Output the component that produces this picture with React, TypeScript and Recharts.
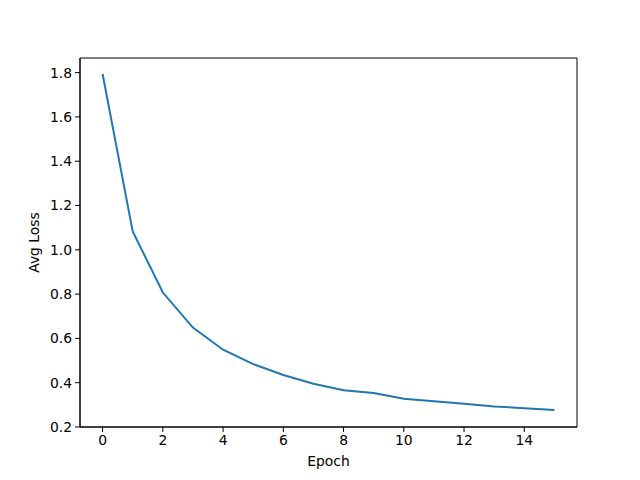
import React from "react";
import { LineChart, Line, XAxis, YAxis, ReferenceArea } from "recharts";

const epochs = [0, 1, 2, 3, 4, 5, 6, 7, 8, 9, 10, 11, 12, 13, 14, 15];
const avgLoss = [
  1.794, 1.083, 0.807, 0.649, 0.549, 0.484, 0.435, 0.395, 0.366, 0.353, 0.328, 0.316, 0.305, 0.293,
  0.285, 0.277,
];
const xTicks = [0, 2, 4, 6, 8, 10, 12, 14];
const yTicks = [0.2, 0.4, 0.6, 0.8, 1.0, 1.2, 1.4, 1.6, 1.8];
const X_DOMAIN: [number, number] = [-0.75, 15.75];
const Y_DOMAIN: [number, number] = [0.2, 1.866];

const data = epochs.map((e, i) => ({ epoch: e, loss: avgLoss[i] }));

const FONT = "DejaVu Sans, sans-serif";
const tickStyle = { fill: "#000", fontSize: 13.9, fontFamily: FONT };

export default function App() {
  return (
    <div style={{ position: "absolute", left: 0, top: 0, width: 640, height: 480, background: "#fff" }}>
      <LineChart width={640} height={480} data={data} margin={{ top: 58, right: 63, bottom: 3, left: 20 }}>
        <XAxis
          dataKey="epoch"
          type="number"
          domain={X_DOMAIN}
          ticks={xTicks}
          allowDataOverflow
          height={50}
          stroke="#000"
          tick={tickStyle}
          tickSize={5}
          tickMargin={3}
          label={{ value: "Epoch", position: "insideBottom", offset: 11, fill: "#000", fontSize: 13.9, fontFamily: FONT }}
        />
        <YAxis
          type="number"
          domain={Y_DOMAIN}
          ticks={yTicks}
          allowDataOverflow
          width={60}
          stroke="#000"
          tick={tickStyle}
          tickSize={5}
          tickMargin={3}
          tickFormatter={(v: number) => v.toFixed(1)}
          label={{
            value: "Avg Loss",
            angle: -90,
            position: "insideLeft",
            offset: 14,
            fill: "#000",
            fontSize: 13.9,
            fontFamily: FONT,
            style: { textAnchor: "middle" },
          }}
        />
        {/* axes frame */}
        <ReferenceArea
          x1={X_DOMAIN[0]}
          x2={X_DOMAIN[1]}
          y1={Y_DOMAIN[0]}
          y2={Y_DOMAIN[1]}
          fill="none"
          fillOpacity={0}
          stroke="#000"
          strokeWidth={1}
          ifOverflow="visible"
        />
        <Line dataKey="loss" stroke="#1f77b4" strokeWidth={2} dot={false} isAnimationActive={false} />
      </LineChart>
    </div>
  );
}
